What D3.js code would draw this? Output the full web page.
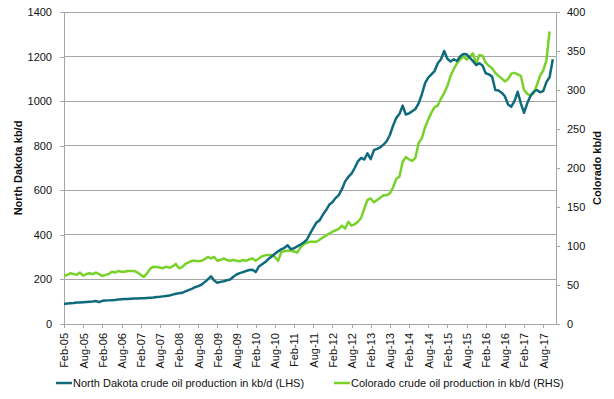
<!DOCTYPE html>
<html>
<head>
<meta charset="utf-8">
<script src="https://cdn.jsdelivr.net/npm/d3@7"></script>
<style>
  body { margin: 0; background: #fff; }
  svg { display: block; font-family: "Liberation Sans", Arial, sans-serif; }
  .tick text { fill: #111; }
</style>
</head>
<body>
<svg id="chart" width="614" height="399"></svg>
<script>
// North Dakota crude oil production, kb/d, Feb-05 .. Nov-17 (left axis)
var northDakota = [
  90, 92, 93, 94, 96, 97, 98, 99, 100, 101, 103,
  98, 104, 105, 106, 107, 108, 110, 111, 112, 112, 113, 114,
  114, 115, 116, 117, 118, 119, 121, 122, 124, 126, 128, 132,
  136, 138, 140, 146, 152, 158, 165, 170, 176, 188, 200, 214,
  195, 185, 189, 192, 196, 200, 212, 222, 228, 233, 238, 242,
  243, 233, 258, 268, 278, 292, 303, 315, 326, 335, 342, 353,
  336, 340, 348, 356, 366, 378, 405, 430, 455, 465, 490, 510,
  535, 546, 565, 578, 605, 640, 660, 675, 700, 730, 745, 738,
  766, 740, 780, 786, 793, 805, 820, 848, 890, 925, 942, 980,
  940, 945, 955, 965, 990, 1030, 1080, 1105, 1120, 1135, 1170, 1188,
  1225, 1190, 1178, 1188, 1180, 1200, 1212, 1210, 1195, 1180, 1162, 1170,
  1160, 1125, 1120, 1110, 1050, 1048, 1038, 1022, 985, 975, 1000, 1042,
  990, 948, 990, 1023, 1042, 1050, 1040, 1045, 1085, 1108, 1188
];

// Colorado crude oil production, kb/d, Feb-05 .. Oct-17 (right axis)
var colorado = [
  61.5, 63, 65, 64, 63, 66, 62, 64, 65, 64, 66,
  64, 61.5, 63, 64, 67, 66, 68, 67, 67, 68, 68, 68,
  66, 63, 60.5, 65, 71, 73.5, 73, 72.5, 71.5, 73.5, 72, 74,
  77, 71.5, 73, 77, 79, 81, 81, 80.5, 81, 83, 86, 84,
  86, 81, 82, 84, 82, 81, 82, 81, 80.5, 82, 81, 83,
  84, 81, 84, 87, 88, 88.5, 88.5, 86, 81, 92, 93.5, 94,
  94, 93, 91.5, 98, 102, 104, 105.5, 105.5, 105.5, 108, 111, 113,
  116, 118, 120, 122, 126, 122.5, 131, 126, 128, 131, 136, 148,
  159, 161, 156, 159, 162, 165, 165, 167.5, 175, 186, 189, 208,
  214, 211, 209, 213, 232, 238, 252, 262, 271, 278, 280, 289,
  296, 305, 318, 327, 334, 339, 343, 339, 343, 347, 333, 345,
  344, 335, 331, 328, 322, 318, 315, 311, 314, 321, 322, 320,
  318, 300, 295, 293, 296, 306, 318, 325, 338, 375
];

var xTickLabels = [
  "Feb-05", "Aug-05", "Feb-06", "Aug-06", "Feb-07", "Aug-07", "Feb-08", "Aug-08",
  "Feb-09", "Aug-09", "Feb-10", "Aug-10", "Feb-11", "Aug-11", "Feb-12", "Aug-12",
  "Feb-13", "Aug-13", "Feb-14", "Aug-14", "Feb-15", "Aug-15", "Feb-16", "Aug-16",
  "Feb-17", "Aug-17"
];
var leftTicks = [0, 200, 400, 600, 800, 1000, 1200, 1400];
var rightTicks = [0, 50, 100, 150, 200, 250, 300, 350, 400];

var seriesNames = [
  "North Dakota crude oil production in kb/d (LHS)",
  "Colorado crude oil production in kb/d (RHS)"
];
var colors = ["#0f6b7c", "#78d22b"];

// monthly categories Feb-05 .. Dec-17
var fmt = d3.timeFormat("%b-%y");
var months = d3.timeMonth.range(new Date(2005, 1, 1), new Date(2018, 0, 1)).map(fmt);

var svg = d3.select("#chart");
var plotLeft = 64, plotRight = 556, plotTop = 12, plotBottom = 324;

var x = d3.scalePoint().domain(months).range([plotLeft, plotRight]);
var yL = d3.scaleLinear().domain([0, 1400]).range([plotBottom, plotTop]);
var yR = d3.scaleLinear().domain([0, 400]).range([plotBottom, plotTop]);

// gridlines
svg.append("g")
  .selectAll("line")
  .data(leftTicks.slice(1))
  .enter().append("line")
  .attr("x1", plotLeft).attr("x2", plotRight)
  .attr("y1", function(d){ return yL(d); })
  .attr("y2", function(d){ return yL(d); })
  .attr("stroke", "#a6a6a6")
  .attr("stroke-width", 1)
  .attr("shape-rendering", "crispEdges");

function styleAxis(g){
  g.select(".domain").attr("stroke", "#a6a6a6").attr("shape-rendering", "crispEdges");
  g.selectAll(".tick line").attr("stroke", "#a6a6a6").attr("shape-rendering", "crispEdges");
  g.selectAll(".tick text").attr("font-size", 11);
}

// left axis
var gl = svg.append("g")
  .attr("transform", "translate(" + plotLeft + ",0)")
  .call(d3.axisLeft(yL).tickValues(leftTicks).tickFormat(d3.format("d"))
    .tickSize(4).tickSizeOuter(0).tickPadding(8));
styleAxis(gl);

// right axis
var gr = svg.append("g")
  .attr("transform", "translate(" + plotRight + ",0)")
  .call(d3.axisRight(yR).tickValues(rightTicks).tickFormat(d3.format("d"))
    .tickSize(4).tickSizeOuter(0).tickPadding(7));
styleAxis(gr);

// bottom axis
var gb = svg.append("g")
  .attr("transform", "translate(0," + plotBottom + ")")
  .call(d3.axisBottom(x).tickValues(xTickLabels).tickSize(4).tickSizeOuter(0));
styleAxis(gb);
gb.selectAll(".tick text")
  .attr("transform", "rotate(-90)")
  .attr("text-anchor", "end")
  .attr("x", -9)
  .attr("y", 0)
  .attr("dy", "0.35em");

// lines
var lineL = d3.line()
  .x(function(d, i){ return x(months[i]); })
  .y(function(d){ return yL(d); });
var lineR = d3.line()
  .x(function(d, i){ return x(months[i]); })
  .y(function(d){ return yR(d); });

svg.append("path")
  .datum(colorado)
  .attr("d", lineR)
  .attr("fill", "none")
  .attr("stroke", colors[1])
  .attr("stroke-width", 2.5)
  .attr("stroke-linejoin", "round");

svg.append("path")
  .datum(northDakota)
  .attr("d", lineL)
  .attr("fill", "none")
  .attr("stroke", colors[0])
  .attr("stroke-width", 2.5)
  .attr("stroke-linejoin", "round");

// axis titles
svg.append("text")
  .attr("transform", "translate(18," + ((plotTop + plotBottom) / 2) + ") rotate(-90)")
  .attr("text-anchor", "middle")
  .attr("dy", "0.35em")
  .attr("font-size", 11)
  .attr("font-weight", "bold")
  .attr("fill", "#111")
  .text("North Dakota kb/d");

svg.append("text")
  .attr("transform", "translate(597," + ((plotTop + plotBottom) / 2) + ") rotate(-90)")
  .attr("text-anchor", "middle")
  .attr("dy", "0.35em")
  .attr("font-size", 11)
  .attr("font-weight", "bold")
  .attr("fill", "#111")
  .text("Colorado kb/d");

// legend
var legendX = [56, 334];
var legend = svg.append("g")
  .selectAll("g")
  .data(seriesNames)
  .enter().append("g")
  .attr("transform", function(d, i){ return "translate(" + legendX[i] + ",383)"; });

legend.append("line")
  .attr("x1", 0).attr("x2", 16)
  .attr("stroke", function(d, i){ return colors[i]; })
  .attr("stroke-width", 2.5);

legend.append("text")
  .attr("x", 17)
  .attr("dy", "0.35em")
  .attr("font-size", 11)
  .attr("fill", "#111")
  .text(function(d){ return d; });
</script>
</body>
</html>
